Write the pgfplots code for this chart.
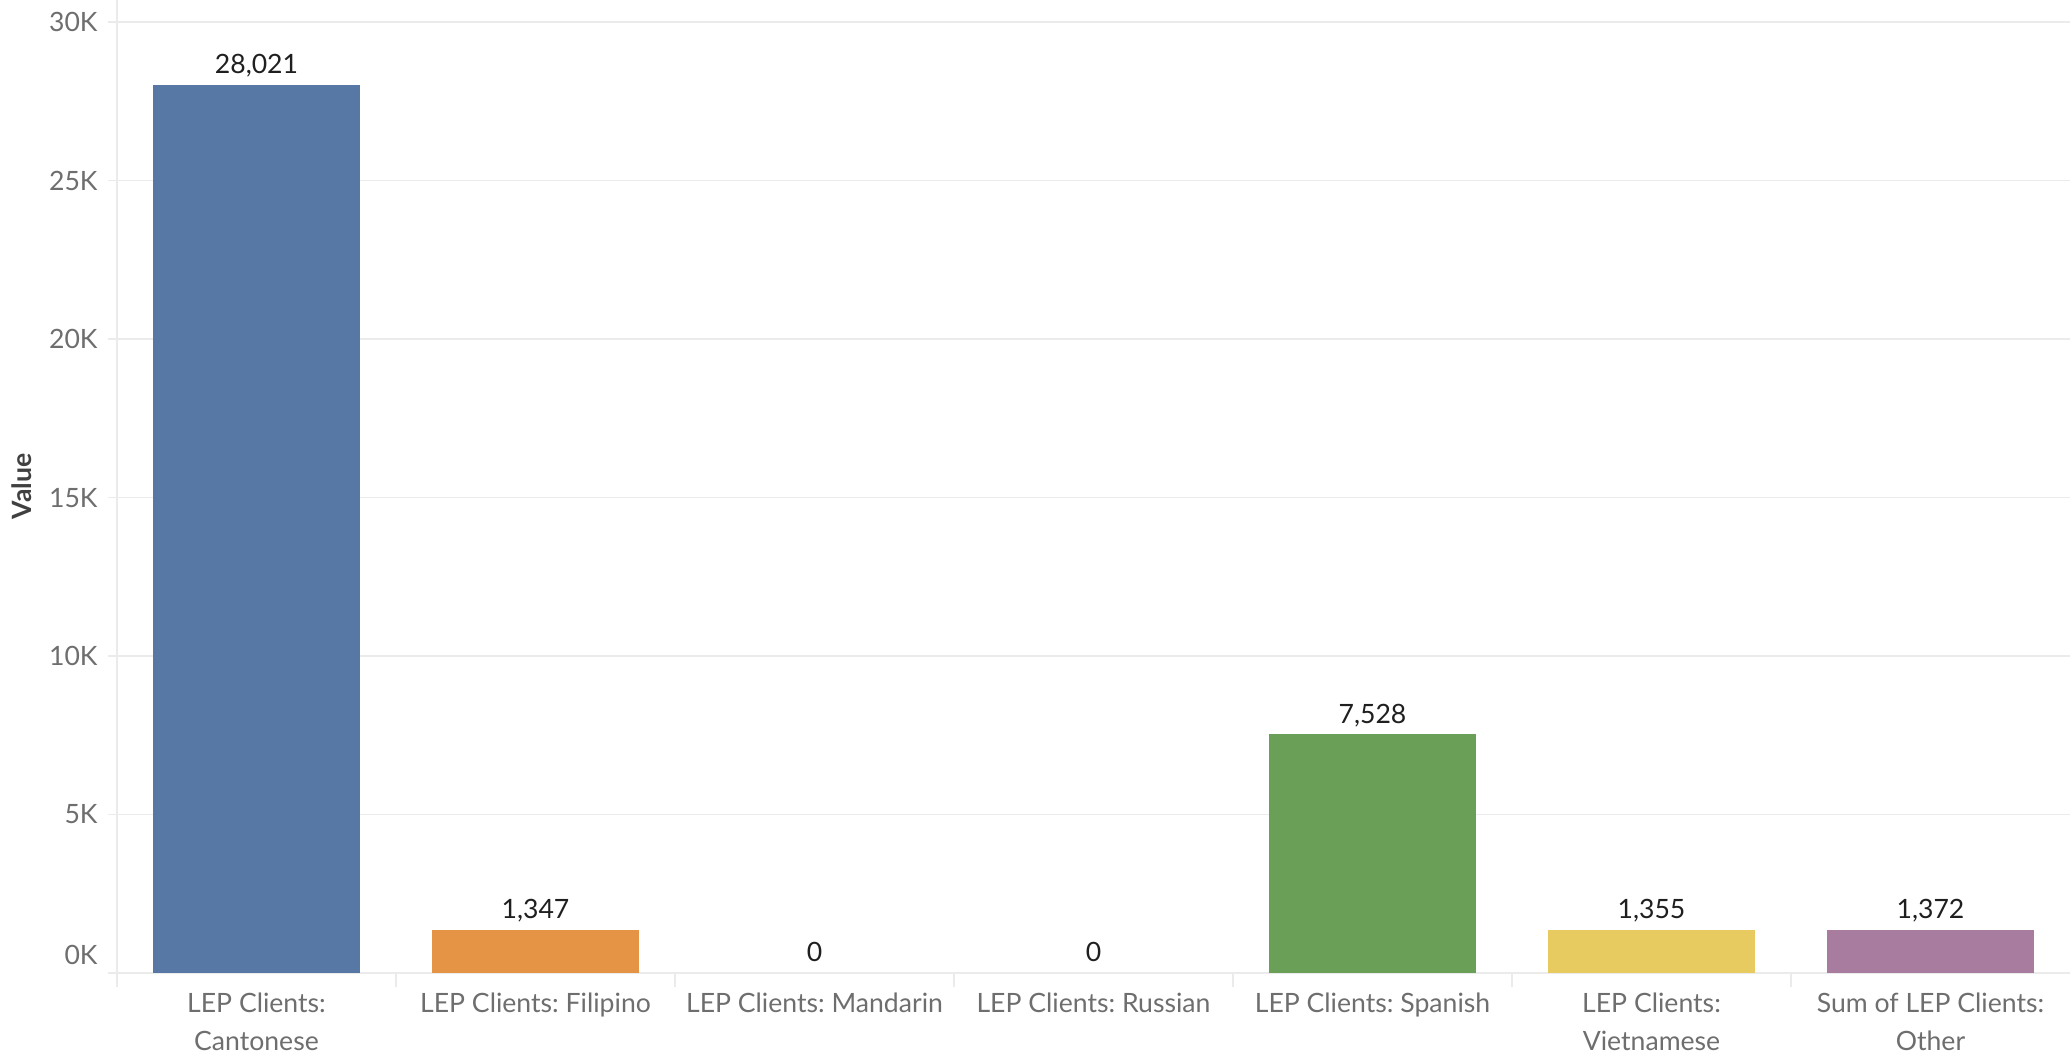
\documentclass[border=0pt]{standalone}
\usepackage{fontspec}
\setmainfont{Lato}
\usepackage{pgfplots}
\pgfplotsset{compat=1.18}
\definecolor{cblue}{HTML}{5778A4}
\definecolor{corange}{HTML}{E49444}
\definecolor{cgreen}{HTML}{6A9F58}
\definecolor{cyellow}{HTML}{E7CA60}
\definecolor{cpurple}{HTML}{A87C9F}
\definecolor{gridc}{HTML}{EBEBEB}
\definecolor{tickc}{HTML}{6E6E6E}
\frenchspacing
\begin{document}
\begin{tikzpicture}
\path[use as bounding box] (-58.5pt,-41pt) rectangle (976.5pt,486.5pt);
\begin{axis}[
  at={(0,0)}, anchor=south west, scale only axis,
  width=976.5pt, height=486.5pt,
  xmin=-0.5, xmax=6.5, ymin=0, ymax=30700,
  ybar, bar shift=0pt, bar width=103.5pt,
  axis lines*=left,
  axis line style={draw=gridc, line width=0.8pt},
  ytick={0,5000,10000,15000,20000,25000,30000},
  yticklabels={\smash{\raisebox{4.5pt}{0K}},5K,10K,15K,20K,25K,30K},
  xtick={0,1,2,3,4,5,6},
  xticklabels={{LEP Clients:\\Cantonese},{LEP Clients: Filipino},{LEP Clients: Mandarin},{LEP Clients: Russian},{LEP Clients: Spanish},{LEP Clients:\\Vietnamese},{Sum of LEP Clients:\\Other}},
  xticklabel style={align=center, text=tickc, font=\fontsize{13.3}{18.5}\selectfont, anchor=north, inner sep=0pt, yshift=-5.5pt},
  yticklabel style={text=tickc, font=\fontsize{13.3}{16}\selectfont, anchor=east, inner sep=0pt, xshift=-5pt},
  tick align=outside, major tick length=4.5pt,
  xtick style={draw=none},
  ytick style={draw=gridc, line width=0.8pt},
  ymajorgrids, grid style={draw=gridc, line width=0.8pt},
  ylabel={Value},
  ylabel style={at={(axis description cs:0,0.5)}, anchor=center, xshift=0pt, yshift=47.5pt, font=\fontsize{13.3}{16}\selectfont\bfseries, text=black!75},
  /pgf/number format/.cd, fixed, precision=0, 1000 sep={,}, assume math mode=true,
  /pgfplots/.cd,
  nodes near coords,
  every node near coord/.append style={anchor=south, inner sep=0pt, text depth=0pt, yshift=5.5pt, text=black!88, font=\fontsize{13.3}{16}\selectfont},
  clip=false,
]
\addplot[fill=cblue, draw=none] coordinates {(0,28021)};
\addplot[fill=corange, draw=none] coordinates {(1,1347)};
\addplot[fill=none, draw=none] coordinates {(2,0)};
\addplot[fill=none, draw=none] coordinates {(3,0)};
\addplot[fill=cgreen, draw=none] coordinates {(4,7528)};
\addplot[fill=cyellow, draw=none] coordinates {(5,1355)};
\addplot[fill=cpurple, draw=none] coordinates {(6,1372)};
\draw[gridc, line width=0.8pt] (axis cs:-0.5,0) -- ([yshift=-7pt]axis cs:-0.5,0);
\draw[gridc, line width=0.8pt] (axis cs:0.5,0) -- ([yshift=-7pt]axis cs:0.5,0);
\draw[gridc, line width=0.8pt] (axis cs:1.5,0) -- ([yshift=-7pt]axis cs:1.5,0);
\draw[gridc, line width=0.8pt] (axis cs:2.5,0) -- ([yshift=-7pt]axis cs:2.5,0);
\draw[gridc, line width=0.8pt] (axis cs:3.5,0) -- ([yshift=-7pt]axis cs:3.5,0);
\draw[gridc, line width=0.8pt] (axis cs:4.5,0) -- ([yshift=-7pt]axis cs:4.5,0);
\draw[gridc, line width=0.8pt] (axis cs:5.5,0) -- ([yshift=-7pt]axis cs:5.5,0);
\end{axis}
\end{tikzpicture}
\end{document}
